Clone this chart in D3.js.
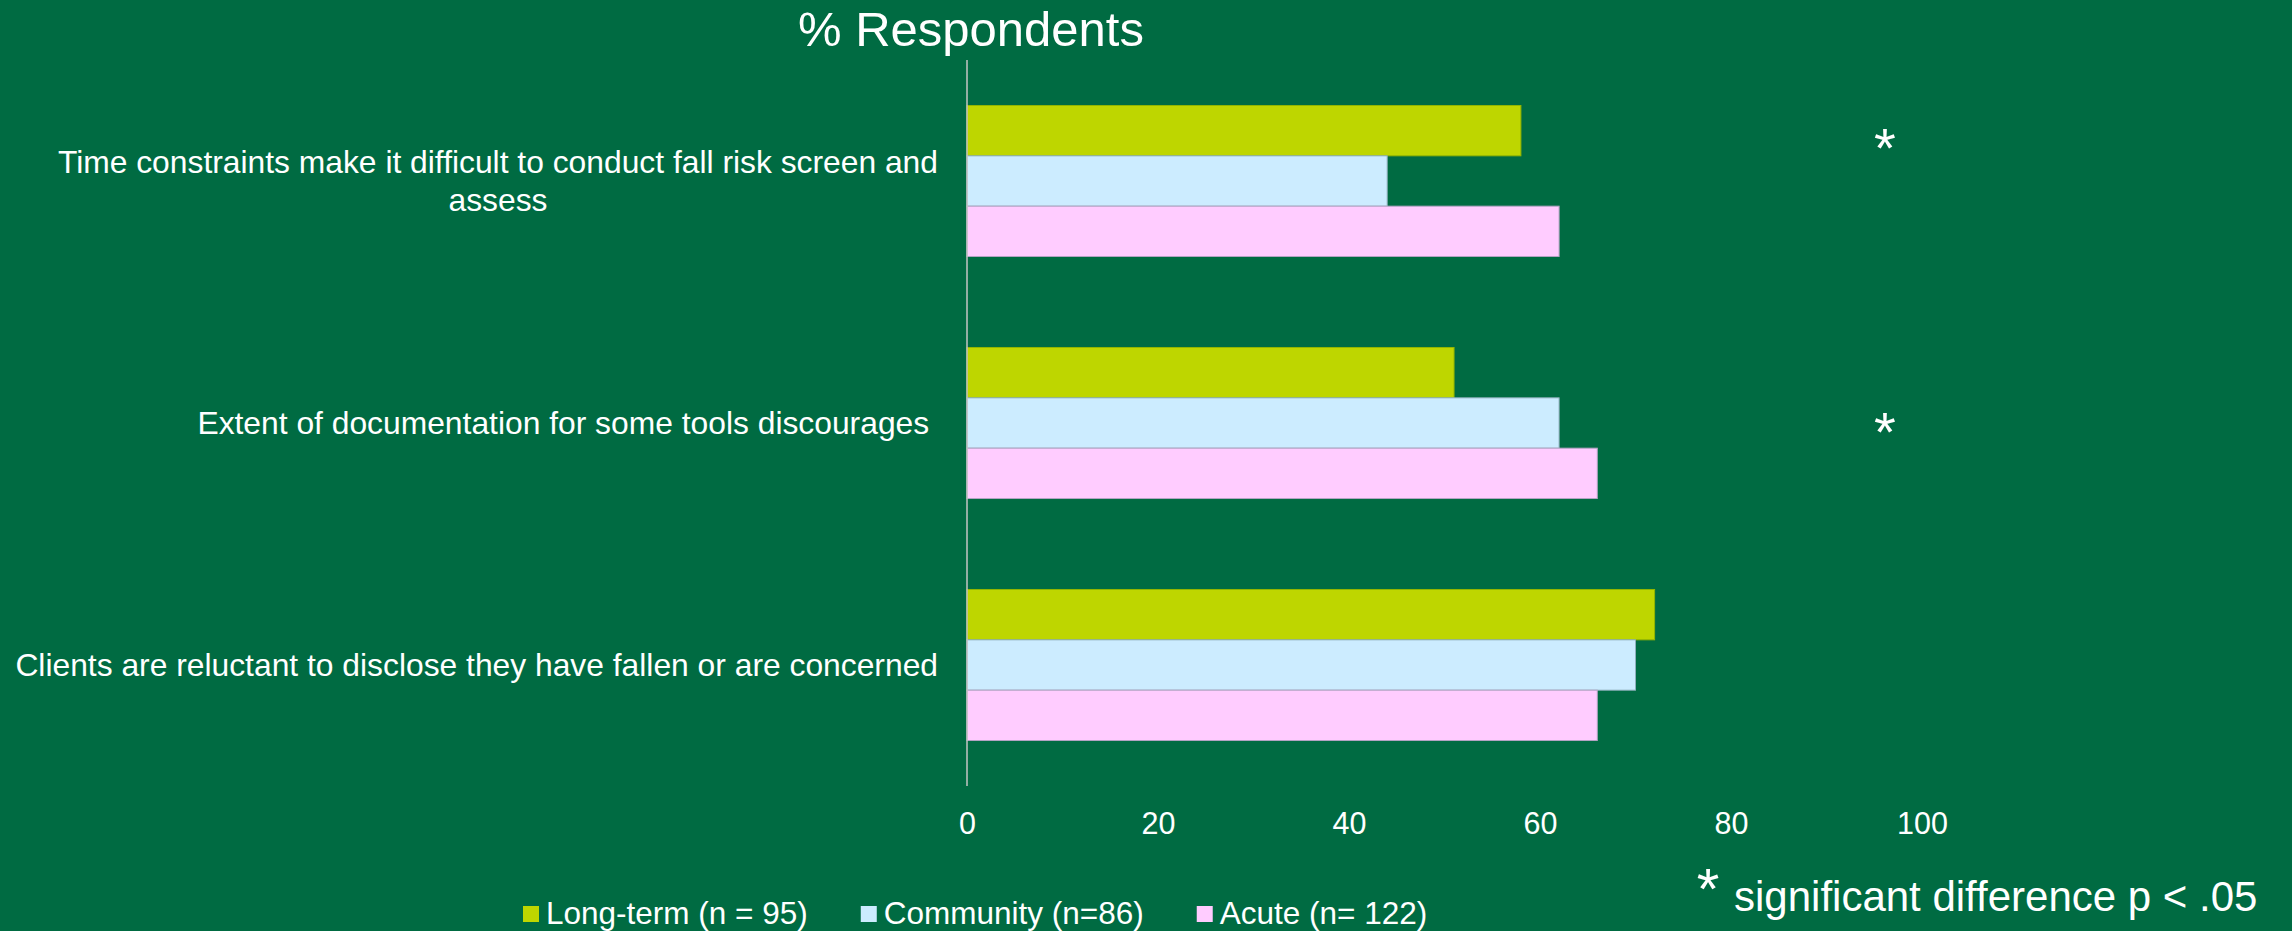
<!DOCTYPE html>
<html>
<head>
<meta charset="utf-8">
<script src="https://cdn.jsdelivr.net/npm/d3@7"></script>
<style>
  html, body { margin: 0; padding: 0; background: #006B42; }
  svg { display: block; }
  text { font-family: "Liberation Sans", Arial, sans-serif; fill: #ffffff; }
</style>
</head>
<body>
<svg id="chart" width="2292" height="931"></svg>
<script>
// ---- data ----
const categories = [
  "Time constraints make it difficult to conduct fall risk screen and assess",
  "Extent of documentation for some tools discourages ",
  "Clients are reluctant to disclose they have fallen or are concerned"
];
const categoryLines = [
  ["Time constraints make it difficult to conduct fall risk screen and", "assess"],
  ["Extent of documentation for some tools discourages "],
  ["Clients are reluctant to disclose they have fallen or are concerned"]
];
const seriesNames = ["Long-term (n = 95)", "Community (n=86)", "Acute (n= 122)"];
const longTerm = [58, 51, 72];
const community = [44, 62, 70];
const acute = [62, 66, 66];
const significant = [true, true, false];
const xTicks = [0, 20, 40, 60, 80, 100];
const titleText = "% Respondents";
const footnoteText = "significant difference p < .05";

// ---- styling ----
const colors = ["#BED600", "#CCECFF", "#FFCCFF"];
const strokes = ["#93b500", "#8fb0bd", "#b3a3c3"];
const seriesValues = [longTerm, community, acute];

const svg = d3.select("#chart");

const x = d3.scaleLinear().domain([0, 100]).range([967, 1922]);
const y = d3.scaleBand().domain(categories).range([60, 786])
  .paddingInner(0.376).paddingOuter(0.188);
const ySub = d3.scaleBand().domain(seriesNames).range([0, y.bandwidth()]);

// bars
const groups = svg.append("g").selectAll("g")
  .data(categories).join("g")
  .attr("transform", d => `translate(0,${y(d)})`);

groups.selectAll("rect")
  .data((c, ci) => seriesNames.map((s, si) => ({ s, si, v: seriesValues[si][ci] })))
  .join("rect")
  .attr("x", x(0))
  .attr("y", d => ySub(d.s))
  .attr("width", d => x(d.v) - x(0))
  .attr("height", ySub.bandwidth())
  .attr("fill", d => colors[d.si])
  .attr("stroke", d => strokes[d.si])
  .attr("stroke-width", 1);

// vertical axis line
svg.append("line")
  .attr("x1", x(0)).attr("x2", x(0))
  .attr("y1", 60).attr("y2", 786)
  .attr("stroke", "#c4c4c4").attr("stroke-width", 1.5);

// x axis labels
const xAxis = svg.append("g")
  .attr("transform", "translate(0,786)")
  .call(d3.axisBottom(x).tickValues(xTicks).tickSize(0).tickPadding(26).tickFormat(d3.format("d")));
xAxis.select(".domain").remove();
xAxis.selectAll("text")
  .attr("fill", "#ffffff")
  .style("font-size", "30.5px")
  .style("font-family", "'Liberation Sans', Arial, sans-serif");

// category labels
const labelFont = 31.8, lineH = 38.4, labelRight = 938;
categories.forEach((c, ci) => {
  const lines = categoryLines[ci];
  const g = svg.append("g");
  const center = y(c) + y.bandwidth() / 2;
  const t = g.append("text")
    .style("font-size", labelFont + "px")
    .attr("xml:space", "preserve")
    .style("white-space", "pre");
  const spans = lines.map((ln, li) => t.append("tspan").text(ln));
  const widths = spans.map(s => s.node().getComputedTextLength());
  const maxW = d3.max(widths);
  const cx = labelRight - maxW / 2;
  const top = center - (lines.length - 1) * lineH / 2;
  spans.forEach((s, li) => {
    s.attr("x", cx).attr("y", top + li * lineH + 11).attr("text-anchor", "middle");
  });
});

// significance asterisks
const astY = [142, 426];
categories.forEach((c, ci) => {
  if (!significant[ci]) return;
  svg.append("text")
    .attr("x", 1885)
    .attr("y", astY[ci] + 25)
    .attr("text-anchor", "middle")
    .style("font-size", "56px")
    .text("*");
});

// title
svg.append("text")
  .attr("x", 971).attr("y", 46)
  .attr("text-anchor", "middle")
  .style("font-size", "49px")
  .text(titleText);

// legend
const legendFont = 31.5;
const legend = svg.append("g");
let lx = 523;
seriesNames.forEach((s, si) => {
  legend.append("rect")
    .attr("x", lx).attr("y", 906).attr("width", 16).attr("height", 16)
    .attr("fill", colors[si]);
  const t = legend.append("text")
    .attr("x", lx + 23).attr("y", 924)
    .style("font-size", legendFont + "px")
    .text(s);
  lx += 23 + t.node().getComputedTextLength() + 53;
});

// footnote
svg.append("text")
  .attr("x", 1708).attr("y", 909)
  .attr("text-anchor", "middle")
  .style("font-size", "58px")
  .text("*");
svg.append("text")
  .attr("x", 1734).attr("y", 911)
  .style("font-size", "42px")
  .text(footnoteText);
</script>
</body>
</html>
